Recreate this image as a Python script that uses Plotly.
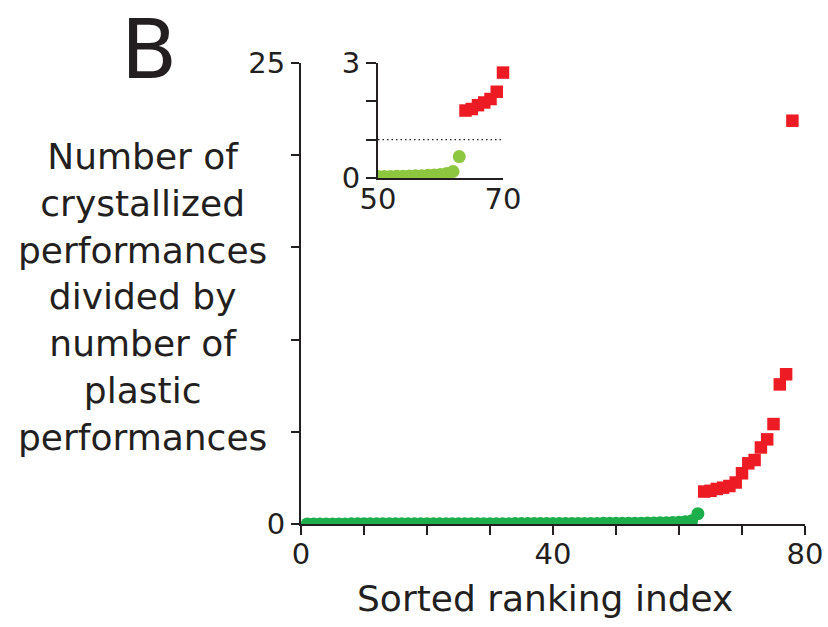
import plotly.graph_objects as go

# Ratio of crystallized to plastic performances, sorted by rank
green_rank = list(range(1, 64))
green_ratio = [
    0.002, 0.003, 0.004, 0.004, 0.005, 0.006, 0.006, 0.007, 0.007, 0.008,
    0.008, 0.009, 0.009, 0.010, 0.010, 0.011, 0.011, 0.012, 0.012, 0.013,
    0.013, 0.014, 0.014, 0.015, 0.015, 0.016, 0.016, 0.017, 0.018, 0.018,
    0.019, 0.019, 0.020, 0.021, 0.021, 0.022, 0.023, 0.023, 0.024, 0.025,
    0.026, 0.027, 0.028, 0.029, 0.030, 0.031, 0.032, 0.034, 0.035, 0.037,
    0.039, 0.041, 0.044, 0.047, 0.051, 0.056, 0.062, 0.070, 0.080, 0.095,
    0.12, 0.17, 0.56,
]
red_rank = list(range(64, 79))
red_ratio = [1.76, 1.80, 1.90, 1.97, 2.06, 2.25, 2.75, 3.29, 3.47, 4.15,
             4.59, 5.42, 7.57, 8.12, 21.87]

main_xticks = [0, 10, 20, 30, 40, 50, 60, 70, 80]
main_xlabels = ["0", "", "", "", "40", "", "", "", "80"]
main_yticks = [0, 5, 10, 15, 20, 25]
main_ylabels = ["0", "", "", "", "", "25"]
inset_xrange = [50, 70]
inset_xticks = [50, 70]
inset_xlabels = ["50", "70"]
inset_yticks = [0, 1, 2, 3]
inset_ylabels = ["0", "", "", "3"]
threshold = 1

INK = "#231f20"
GREEN = "#1cae4b"
LIGHT_GREEN = "#8dc63f"
RED = "#ed1c24"
FONT = "DejaVu Sans"
MSIZE = 13

# red points that fall inside the inset window (drawn unclipped there)
inset_red = [(r, v) for r, v in zip(red_rank, red_ratio)
             if inset_xrange[0] <= r <= inset_xrange[1]]

fig = go.Figure()

# main panel
fig.add_trace(go.Scatter(x=green_rank, y=green_ratio, mode="markers",
                         marker=dict(symbol="circle", size=MSIZE, color=GREEN),
                         xaxis="x", yaxis="y", showlegend=False))
fig.add_trace(go.Scatter(x=red_rank, y=red_ratio, mode="markers",
                         marker=dict(symbol="square", size=MSIZE - 0.5, color=RED),
                         cliponaxis=False,
                         xaxis="x", yaxis="y", showlegend=False))

# inset zoom on ranks 50-70
fig.add_trace(go.Scatter(x=green_rank, y=green_ratio, mode="markers",
                         marker=dict(symbol="circle", size=MSIZE, color=LIGHT_GREEN),
                         xaxis="x2", yaxis="y2", showlegend=False))
fig.add_trace(go.Scatter(x=[p[0] for p in inset_red], y=[p[1] for p in inset_red],
                         mode="markers",
                         marker=dict(symbol="square", size=MSIZE - 0.5, color=RED),
                         cliponaxis=False,
                         xaxis="x2", yaxis="y2", showlegend=False))

axis_common = dict(showgrid=False, zeroline=False, showline=True,
                   automargin=False,
                   linecolor=INK, linewidth=2, tickcolor=INK,
                   tickfont=dict(family=FONT, size=29, color=INK))

fig.update_layout(
    template="none",
    width=828, height=627,
    margin=dict(l=301, r=23, t=63, b=103, autoexpand=False),
    paper_bgcolor="white", plot_bgcolor="rgba(0,0,0,0)",
    xaxis=dict(domain=[0, 1], range=[0, 80], tickmode="array",
               tickvals=main_xticks, ticktext=main_xlabels,
               ticks="outside", ticklen=9, tickwidth=1.5,
               ticklabelstandoff=-6, **axis_common),
    yaxis=dict(domain=[0, 1], range=[0, 25], tickmode="array",
               tickvals=main_yticks, ticktext=main_ylabels,
               ticks="outside", ticklen=8, tickwidth=1.5, **axis_common),
    xaxis2=dict(domain=[0.1528, 0.4008], range=inset_xrange, anchor="y2",
                tickmode="array", tickvals=inset_xticks, ticktext=inset_xlabels,
                ticks="", ticklabelstandoff=-6, **axis_common),
    yaxis2=dict(domain=[0.7505, 1.0], range=[0, 3], anchor="x2",
                tickmode="array", tickvals=inset_yticks, ticktext=inset_ylabels,
                ticks="outside", ticklen=10, tickwidth=1.5, **axis_common),
)

# dotted reference line at ratio = 1 in the inset
fig.add_shape(type="line", xref="x2", yref="y2", x0=50, x1=70,
              y0=threshold, y1=threshold,
              line=dict(color=INK, width=1.2, dash="1.5px,3px"))

ytitle = ("Number of<br>crystallized<br>performances<br>divided by<br>"
          "number of<br>plastic<br>performances")
fig.add_annotation(text=ytitle, xref="paper", yref="paper",
                   x=-0.3135, y=0.4924, xanchor="center", yanchor="middle",
                   align="center", showarrow=False,
                   font=dict(family=FONT, size=36, color=INK))
fig.add_annotation(text="Sorted ranking index", xref="paper", yref="paper",
                   x=0.484, y=-0.162, xanchor="center", yanchor="middle",
                   showarrow=False, font=dict(family=FONT, size=36, color=INK))
fig.add_annotation(text="B", xref="paper", yref="paper",
                   x=(149 - 301) / 504, y=524 / 461,
                   xanchor="center", yanchor="top", showarrow=False,
                   font=dict(family=FONT, size=82, color=INK))

fig.write_html("out.html")
